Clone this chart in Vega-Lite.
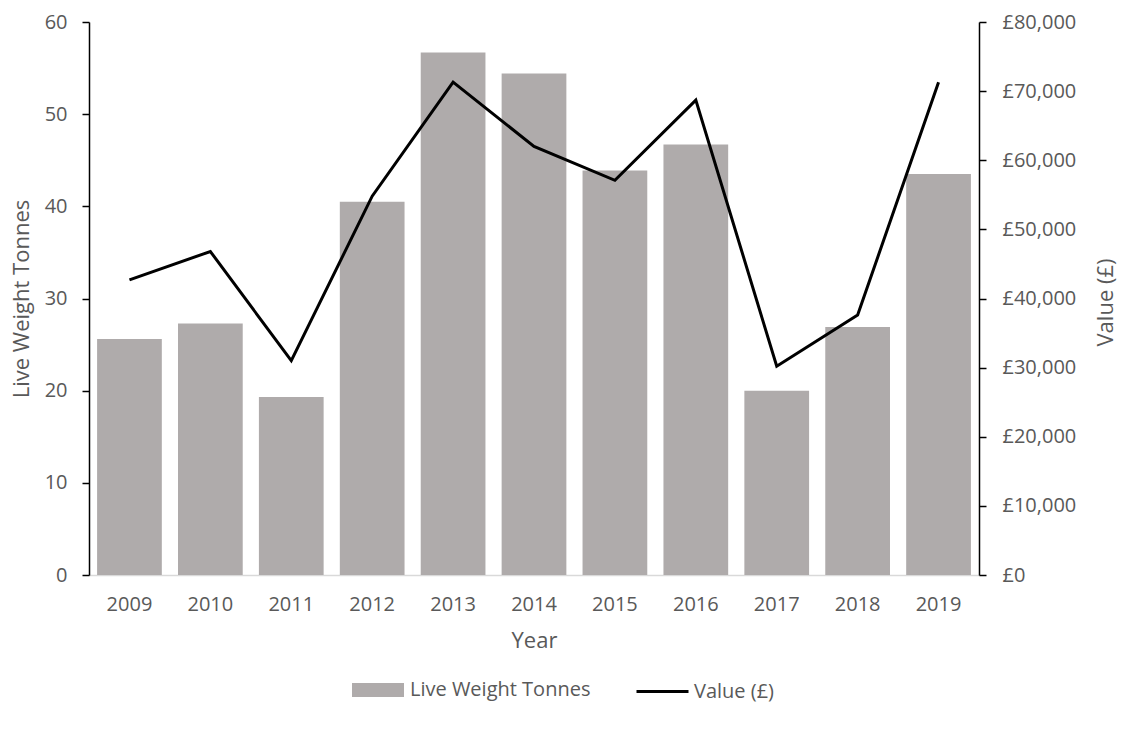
{
  "$schema": "https://vega.github.io/schema/vega-lite/v6.json",
  "width": 890,
  "height": 553,
  "autosize": {"type": "none"},
  "padding": {"left": 89, "top": 22, "right": 142, "bottom": 154},
  "background": "white",
  "config": {
    "view": {"stroke": null},
    "font": "Open Sans",
    "axis": {"labelFont": "Open Sans", "titleFont": "Open Sans", "labelColor": "#595959", "titleColor": "#595959", "labelFontSize": 20, "titleFontSize": 22, "titleFontWeight": "normal", "grid": false},
    "legend": {"labelFont": "Open Sans", "labelFontSize": 20, "labelColor": "#595959", "labelLimit": 400}
  },
  "data": {"values": [
    {"year": "2009", "tonnes": 25.6, "value": 42700},
    {"year": "2010", "tonnes": 27.3, "value": 46800},
    {"year": "2011", "tonnes": 19.3, "value": 31000},
    {"year": "2012", "tonnes": 40.5, "value": 54800},
    {"year": "2013", "tonnes": 56.7, "value": 71300},
    {"year": "2014", "tonnes": 54.4, "value": 62000},
    {"year": "2015", "tonnes": 43.9, "value": 57100},
    {"year": "2016", "tonnes": 46.7, "value": 68700},
    {"year": "2017", "tonnes": 20.0, "value": 30200},
    {"year": "2018", "tonnes": 26.9, "value": 37600},
    {"year": "2019", "tonnes": 43.5, "value": 71300}
  ]},
  "encoding": {
    "x": {"field": "year", "type": "ordinal", "title": "Year",
      "scale": {"paddingInner": 0.2, "paddingOuter": 0.1},
      "axis": {"labelAngle": 0, "domainColor": "#d9d9d9", "domainWidth": 1.5, "ticks": false, "labelPadding": 19, "titlePadding": 16}}
  },
  "layer": [
    {
      "mark": {"type": "bar", "color": "#AFABAB"},
      "encoding": {
        "y": {"field": "tonnes", "type": "quantitative", "title": "Live Weight Tonnes",
          "scale": {"domain": [0, 60], "nice": false},
          "axis": {"values": [0, 10, 20, 30, 40, 50, 60], "domainColor": "black", "domainWidth": 1.5, "tickColor": "black", "tickWidth": 1.5, "tickSize": 7, "labelPadding": 15, "titlePadding": 11}},
        "fill": {"datum": "Live Weight Tonnes", "type": "nominal",
          "scale": {"range": ["#AFABAB"]},
          "legend": {"orient": "none", "legendX": 263, "legendY": 642, "title": null, "padding": 0, "symbolType": "M-1,-0.27H1V0.27H-1Z", "symbolSize": 2704, "symbolStrokeWidth": 0, "labelOffset": 6}}
      }
    },
    {
      "mark": {"type": "line", "color": "black", "strokeWidth": 3},
      "encoding": {
        "y": {"field": "value", "type": "quantitative", "title": "Value (£)",
          "scale": {"domain": [0, 80000], "nice": false},
          "axis": {"orient": "right", "values": [0, 10000, 20000, 30000, 40000, 50000, 60000, 70000, 80000], "labelExpr": "'£' + format(datum.value, ',')", "domainColor": "black", "domainWidth": 1.5, "tickColor": "black", "tickWidth": 1.5, "tickSize": 7, "labelPadding": 16, "titleAngle": 270, "titleBaseline": "middle", "titleAlign": "center", "titleX": 126, "titleY": 280}},
        "stroke": {"datum": "Value (£)", "type": "nominal",
          "scale": {"range": ["black"]},
          "legend": {"orient": "none", "legendX": 546, "legendY": 642, "title": null, "padding": 0, "symbolType": "stroke", "symbolSize": 2704, "symbolStrokeWidth": 3, "labelOffset": 4}}
      }
    }
  ],
  "resolve": {"scale": {"y": "independent", "fill": "independent", "stroke": "independent"}}
}
